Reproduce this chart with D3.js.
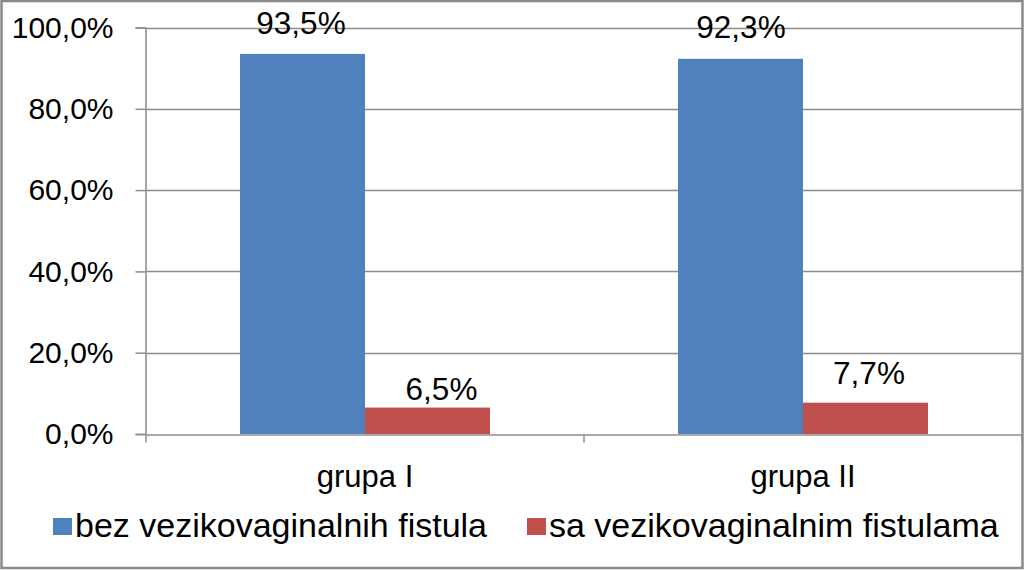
<!DOCTYPE html>
<html>
<head>
<meta charset="utf-8">
<script src="https://cdn.jsdelivr.net/npm/d3@7"></script>
<style>
  body { margin: 0; background: #fff; }
  text { font-family: "Liberation Sans", Arial, sans-serif; fill: #000; }
</style>
</head>
<body>
<div id="chart"></div>
<script>
const groups = ["grupa I", "grupa II"];
const seriesNames = ["bez vezikovaginalnih fistula", "sa vezikovaginalnim fistulama"];
const seriesColors = ["#4F81BD", "#C0504D"];
const bezValues = [93.5, 92.3];
const saValues = [6.5, 7.7];
const yTicks = [0, 20, 40, 60, 80, 100];

const width = 1024,
    height = 570,
    margin = ({ top: 27.5, right: 2, bottom: 136, left: 146 });

// hand-placed data labels in the original (nudge x, gap above bar)
const labelNudge = [[[-1.5, 20], [14, 8]], [[0.5, 21], [3.5, 19]]];

const fmt = v => v.toFixed(1).replace(".", ",") + "%";

const data = groups.map((g, i) => ({ group: g, gi: i, values: [bezValues[i], saValues[i]] }));

let svg = d3.select("#chart")
    .append("svg")
    .attr("width", width)
    .attr("height", height);

// outer frame
svg.append("rect")
    .attr("x", 1.5).attr("y", 1)
    .attr("width", width - 3).attr("height", height - 3)
    .attr("fill", "#fff")
    .attr("stroke", "#8a8a8a")
    .attr("stroke-width", 2.5);

let y = d3.scaleLinear()
    .domain([0, 100])
    .range([height - margin.bottom, margin.top]);

let x0 = d3.scaleBand()
    .domain(groups)
    .range([margin.left, width - margin.right]);

let x1 = d3.scaleBand()
    .domain([0, 1])
    .range([0, x0.bandwidth()])
    .paddingOuter(0.752);

// gridlines
svg.append("g")
    .selectAll("line")
    .data(yTicks.filter(d => d > 0))
    .join("line")
    .attr("x1", margin.left)
    .attr("x2", width - margin.right)
    .attr("y1", d => Math.round(y(d)) + 0.5)
    .attr("y2", d => Math.round(y(d)) + 0.5)
    .attr("stroke", "#8c8c8c")
    .attr("stroke-width", 1.5);

// bars
let bar = svg.selectAll(".bar")
    .data(data)
    .join("g")
    .attr("class", "bar")
    .attr("transform", d => `translate(${x0(d.group)},0)`);

bar.selectAll("rect")
    .data(d => d.values)
    .join("rect")
    .attr("x", (d, i) => x1(i))
    .attr("width", x1.bandwidth())
    .attr("y", d => y(d))
    .attr("height", d => y(0) - y(d))
    .attr("fill", (d, i) => seriesColors[i]);

bar.selectAll("text")
    .data(d => d.values.map(v => ({ v: v, gi: d.gi })))
    .join("text")
    .text(d => fmt(d.v))
    .attr("x", (d, i) => x1(i) + x1.bandwidth() / 2 + labelNudge[d.gi][i][0])
    .attr("y", (d, i) => y(d.v) - labelNudge[d.gi][i][1])
    .attr("text-anchor", "middle")
    .style("font-size", "31.5px");

// y axis
let yAxis = svg.append("g")
    .attr("transform", `translate(${margin.left - 0.5},0)`)
    .call(d3.axisLeft(y)
        .tickValues(yTicks)
        .tickFormat(d => fmt(d))
        .tickSize(10)
        .tickPadding(22));
yAxis.select(".domain").attr("stroke", "#8c8c8c").attr("stroke-width", 1.5);
yAxis.selectAll(".tick line").attr("stroke", "#8c8c8c").attr("stroke-width", 1.5);
yAxis.selectAll(".tick text")
    .style("font-size", "30px")
    .attr("fill", "#000");

// x axis
let xAxis = svg.append("g")
    .attr("transform", `translate(0,${Math.round(y(0)) + 0.5})`)
    .call(d3.axisBottom(x0).tickSize(0).tickPadding(30));
xAxis.select(".domain").attr("stroke", "#8c8c8c").attr("stroke-width", 1.5);
xAxis.selectAll(".tick text")
    .style("font-size", "31px")
    .attr("fill", "#000");

// category boundary ticks
xAxis.append("g")
    .selectAll("line")
    .data(groups.concat(["end"]))
    .join("line")
    .attr("x1", (d, i) => i < groups.length ? x0(d) : x0(groups[groups.length - 1]) + x0.bandwidth())
    .attr("x2", (d, i) => i < groups.length ? x0(d) : x0(groups[groups.length - 1]) + x0.bandwidth())
    .attr("y1", 0)
    .attr("y2", 8)
    .attr("stroke", "#8c8c8c")
    .attr("stroke-width", 1.5);

// legend
const legendX = [53, 527];
let legend = svg.append("g")
    .selectAll("g")
    .data(seriesNames)
    .join("g")
    .attr("transform", (d, i) => `translate(${legendX[i]},518)`);

legend.append("rect")
    .attr("width", 19)
    .attr("height", 17)
    .attr("fill", (d, i) => seriesColors[i]);

legend.append("text")
    .text(d => d)
    .attr("x", 22)
    .attr("y", 19)
    .style("font-size", "34px");
</script>
</body>
</html>
